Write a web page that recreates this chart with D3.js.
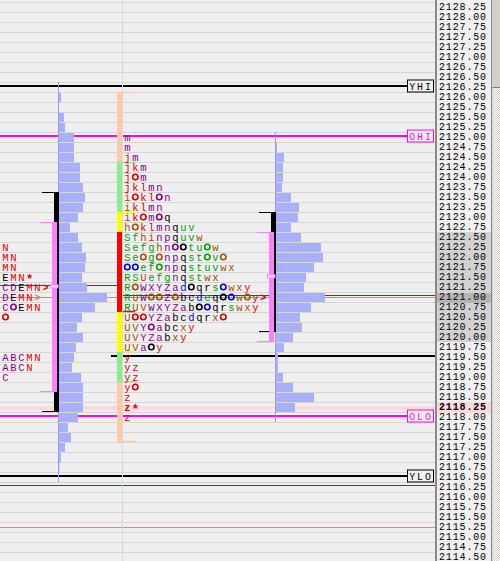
<!DOCTYPE html>
<html><head><meta charset="utf-8">
<script src="https://cdn.jsdelivr.net/npm/d3@7"></script>
<style>
html,body{margin:0;padding:0;background:#efefef;overflow:hidden}
svg{display:block}
text{font-family:"Liberation Mono","DejaVu Sans Mono",monospace}
</style></head><body>
<svg id="c" width="500" height="561"></svg>
<script>
// ---------------- DATA ----------------
const axisPrices = d3.range(2128.25, 2114.49, -0.25);
const refLabels = ["YHI", "OHI", "OLO", "YLO"];
const refPrices = [2126.25, 2125.00, 2118.00, 2116.50];
const refKinds  = ["y", "o", "o", "y"];
const lastPrice = 2118.25;
const axisVaHigh = 2122.50, axisVaLow = 2120.00, axisPoc = 2121.00;

// naked POC lines
const nakedPocPrices = [2121.25, 2121.00, 2121.00, 2116.25, 2115.25];
const nakedPocKinds  = ["tpoPrev", "tpoCurr", "vol", "tpo", "vol"];
const ibExtPrice = 2119.50;

// previous day profile (volume histogram)
const prevPrices = [2126.25,2126,2125.75,2125.5,2125.25,2125,2124.75,2124.5,2124.25,2124,2123.75,2123.5,2123.25,2123,2122.75,2122.5,2122.25,2122,2121.75,2121.5,2121.25,2121,2120.75,2120.5,2120.25,2120,2119.75,2119.5,2119.25,2119,2118.75,2118.5,2118.25,2118,2117.75,2117.5,2117.25,2117,2116.75,2116.5];
const prevVolume = [0.5,3,1,6,7,16,16,16,22,22,25,27,25,20,12,20,24,28,27,24,29,49,37,24,19,25,18,16,14,23,25,25,25,20,10,13,7,3,1.5,0.5];
// previous day TPO letters (its left part is scrolled out of view)
const prevTpoPrices = [2122.25,2122,2121.75,2121.5,2121.25,2121,2120.75,2120.5,2119.5,2119.25,2119];
const prevTpoRows = ["N","MN","MN","EMN*","CDEMN{r}","DEMN{o}","C[p]EMN","[r]","ABCMN","ABCN","C"];
const prevIb = [2123.50, 2118.25];
const prevVa = [2122.75, 2118.75];
const prevMark = 2121.25;

// current day
const currPrices = [2125,2124.75,2124.5,2124.25,2124,2123.75,2123.5,2123.25,2123,2122.75,2122.5,2122.25,2122,2121.75,2121.5,2121.25,2121,2120.75,2120.5,2120.25,2120,2119.75,2119.5,2119.25,2119,2118.75,2118.5,2118.25,2118];
const currVolume = [0,2,9,8,8,7,16,24,23,16,26,46,48,39,31,29,50,36,25,27,18,9,3,3,8,18,39,20,0];
const currTpoRows = [
 "m","m","jm","jkm","j[r]m","jklmn","i[r]kl[p]n","iklmn","ik[r]m[p]q","h[n]klmnquv",
 "Sfhinpquvw","Sefghn[p][k]tu[g]w","Se[n]g[n]npqst[g]v[n]","[b][b]ef[g]npqstuvwx","RSUefgnqstwx",
 "R[n]WXYZad[k]qrs[b]wxy","RUW[n][n]Z[n]bcdeq[k][b]w[n]y{r}","RUVWXYZab[k][b]qrswxy","U[r][r]YZabcdqrx[r]",
 "UVY[p]abcxy","UVYZabxy","UVa[k]y","y","yz","yz","y[r]","z","z*","z"];
const currIb = [2123.00, 2120.25];
const currVa = [2122.50, 2120.00];
const currMark = 2121.50;
const zoneTop    = [2126.00, 2124.25, 2123.00, 2122.50, 2120.50, 2119.50, 2118.75];
const zoneBottom = [2124.50, 2123.25, 2122.75, 2120.75, 2119.75, 2119.00, 2117.50];
const zoneKind   = ["peach","green","yellow","red","yellow","green","peach"];

// letter colour groups (TPO periods)
const letterGroup = {A:"p",B:"p",C:"p",D:"p",E:"k",L:"r",M:"r",N:"r",
 R:"g",S:"g",T:"g",U:"n",V:"n",W:"p",X:"p",Y:"p",Z:"p",
 a:"p",b:"k",c:"k",d:"b",e:"g",f:"g",g:"g",h:"n",i:"n",j:"r",k:"r",l:"r",m:"p",n:"p",o:"p",p:"p",
 q:"k",r:"k",s:"g",t:"g",u:"g",v:"g",w:"n",x:"n",y:"r",z:"r","*":"r"};

// ---------------- STYLE ----------------
const palette = {r:"#dd0000",p:"#880088",k:"#000000",g:"#00a000",b:"#0000ee",n:"#a05000",o:"#ff7a30"};
const zoneColor = {peach:"#ffc8a8",green:"#88ee88",yellow:"#ffff00",red:"#ff0000"};
const barFill = "#aaaeff", barLine = "#9a9aee";
const plotRight = 435;

const svg = d3.select("#c");
const y = d3.scaleLinear().domain([2125, 2114.5]).range([132, 552]); // row top
const ROW = 10;
const xVol = d3.scaleLinear().domain([0, 50]).range([0, 50]);

svg.append("rect").attr("width",500).attr("height",561).attr("fill","#efefef");
svg.append("g").selectAll("line").data(axisPrices).join("line")
  .attr("x1",0).attr("x2",plotRight).attr("y1",d=>y(d)+0.5).attr("y2",d=>y(d)+0.5)
  .attr("stroke","#d6d6d6").attr("stroke-width",1);
svg.append("rect").attr("x",0).attr("width",plotRight).attr("y",y(lastPrice)+4).attr("height",4).attr("fill","#ffd9d9");

const pocColor = {tpoPrev:"#e00000",tpoCurr:"#e00000",tpo:"#e00000",vol:"#ff8040"};
nakedPocPrices.forEach((p,i)=>{
  const k = nakedPocKinds[i];
  const x1 = k==="tpoCurr" ? 117 : 0;
  const x2 = k==="tpoPrev" ? 117 : plotRight;
  const yy = k==="vol" ? y(p)+5.5 : y(p)+3.5;
  svg.append("line").attr("x1",x1).attr("x2",x2).attr("y1",yy).attr("y2",yy)
    .attr("stroke",pocColor[k]).attr("stroke-width",1);
});
svg.append("line").attr("x1",111).attr("x2",plotRight).attr("y1",y(ibExtPrice)+4).attr("y2",y(ibExtPrice)+4)
  .attr("stroke","#000").attr("stroke-width",2);

refPrices.forEach((p,i)=>{
  const col = refKinds[i]==="o" ? "#ff00ff" : "#000000";
  const yy = y(p)+4;
  svg.append("line").attr("x1",0).attr("x2",408).attr("y1",yy).attr("y2",yy).attr("stroke",col).attr("stroke-width",2);
  svg.append("rect").attr("x",407.5).attr("y",yy-6).attr("width",26).attr("height",12)
    .attr("fill","#f0f0f0").attr("stroke",col).attr("stroke-width",1);
  svg.append("text").attr("x",421).attr("y",yy+3.5).attr("text-anchor","middle")
    .attr("font-size",10).attr("letter-spacing",1.8).attr("fill",col).text(refLabels[i]);
});

function histogram(prices, vols, x0, color){
  const g = svg.append("g");
  g.selectAll("rect").data(prices).join("rect")
    .attr("x",x0).attr("y",d=>y(d)+1).attr("height",ROW-1)
    .attr("width",(d,i)=>xVol(vols[i])).attr("fill",color);
  g.append("line").attr("x1",x0+0.5).attr("x2",x0+0.5)
    .attr("y1",y(d3.max(prices))).attr("y2",y(d3.min(prices))+ROW)
    .attr("stroke",barLine).attr("stroke-width",1);
}
function valueBars(ib, va, mark, xr){
  svg.append("rect").attr("x",xr-5).attr("width",5).attr("y",y(ib[0])).attr("height",y(ib[1])+ROW-y(ib[0])).attr("fill","#000");
  [y(ib[0])+0.5, y(ib[1])+ROW-0.5].forEach(v=>svg.append("line").attr("x1",xr-17).attr("x2",xr).attr("y1",v).attr("y2",v).attr("stroke","#000"));
  svg.append("rect").attr("x",xr-7).attr("width",5).attr("y",y(va[0])).attr("height",y(va[1])+ROW-y(va[0])).attr("fill","#ff80ff");
  [y(va[0])+0.5, y(va[1])+ROW-0.5].forEach(v=>svg.append("line").attr("x1",xr-19).attr("x2",xr-2).attr("y1",v).attr("y2",v).attr("stroke","#ff80ff"));
  svg.append("rect").attr("x",xr-8.5).attr("width",7.5).attr("y",y(mark)+2.5).attr("height",3.5)
    .attr("fill","#ffe0ff").attr("stroke","#ff80ff").attr("stroke-width",1);
}

function parseRow(s){
  const toks=[]; const re=/\[(.)\]|\{(.)\}|(.)/g; let m;
  while((m=re.exec(s))){ if(m[1]) toks.push({t:"circle",c:m[1]}); else if(m[2]) toks.push({t:"arrow",c:m[2]}); else toks.push({t:"ch",ch:m[3]}); }
  return toks;
}
function tpoRows(prices, rows, x0, boldPrice){
  const g = svg.append("g");
  rows.forEach((r,ri)=>{
    const top = y(prices[ri]);
    parseRow(r).forEach((tk,ci)=>{
      const cx = x0 + 8*ci + 4;
      if(tk.t==="circle"){
        g.append("ellipse").attr("cx",cx).attr("cy",top+5).attr("rx",2.7).attr("ry",2.8)
          .attr("fill","none").attr("stroke",palette[tk.c]).attr("stroke-width",1.6);
      } else if(tk.t==="arrow"){
        g.append("text").attr("x",cx).attr("y",top+8.5).attr("text-anchor","middle").attr("font-size",10)
          .attr("font-weight","bold").attr("fill",palette[tk.c]).text(">");
      } else if(tk.ch!==" "){
        const star = tk.ch==="*";
        g.append("text").attr("x",cx).attr("y",top+(star?10.5:8.5)).attr("text-anchor","middle")
          .attr("font-size",star?12:10.5)
          .attr("font-weight",(star||prices[ri]===boldPrice)?"bold":"normal")
          .attr("fill",palette[letterGroup[tk.ch]||"k"]).text(tk.ch);
      }
    });
  });
}

histogram(prevPrices, prevVolume, 58, barFill);
valueBars(prevIb, prevVa, prevMark, 59);
tpoRows(prevTpoPrices, prevTpoRows, 1.5, null);

zoneKind.forEach((k,i)=>{
  const t=y(zoneTop[i]), b=y(zoneBottom[i])+ROW;
  svg.append("rect").attr("x",117).attr("width",k==="red"?5.5:5).attr("y",t).attr("height",b-t).attr("fill",zoneColor[k]);
  const edge = i<3 ? t+0.5 : b-0.5;
  svg.append("line").attr("x1",117).attr("x2",135).attr("y1",edge).attr("y2",edge).attr("stroke",zoneColor[k]).attr("stroke-width",1.5);
});
svg.append("line").attr("x1",122.5).attr("x2",122.5).attr("y1",0).attr("y2",561).attr("stroke","#d8d8d8");

tpoRows(currPrices, currTpoRows, 123.3, lastPrice);
histogram(currPrices, currVolume, 275, barFill);
valueBars(currIb, currVa, currMark, 276);

// ---------------- price axis ----------------
svg.append("rect").attr("x",plotRight).attr("y",0).attr("width",57).attr("height",561).attr("fill","#f0f0f0");
svg.append("rect").attr("x",437).attr("y",y(axisVaHigh)).attr("width",54).attr("height",y(axisVaLow)+ROW-y(axisVaHigh)).attr("fill","#d2d2d2");
svg.append("rect").attr("x",437).attr("y",y(axisPoc)+1).attr("width",54).attr("height",ROW).attr("fill","#b4b4b4");
svg.append("rect").attr("x",437).attr("y",y(lastPrice)).attr("width",54).attr("height",ROW+1.5).attr("fill","#ffd9d9");
const axis = d3.axisRight(d3.scaleLinear().domain(y.domain()).range([136,556]))
  .tickValues(axisPrices).tickFormat(d3.format(".2f")).tickSize(0).tickPadding(0);
const ag = svg.append("g").attr("transform","translate(439,0)").call(axis);
ag.select(".domain").remove();
ag.selectAll("text").attr("font-size",10).attr("letter-spacing",0.85).attr("fill","#000")
  .attr("font-family","'Liberation Mono',monospace")
  .attr("font-weight",d=>d===lastPrice?"bold":"normal");
svg.append("rect").attr("x",435).attr("y",0).attr("width",2).attr("height",561).attr("fill","#8a8a8a");
svg.append("rect").attr("x",491).attr("y",0).attr("width",1.5).attr("height",561).attr("fill","#8a8a8a");
const defs = svg.append("defs");
const pat = defs.append("pattern").attr("id","chk").attr("width",2).attr("height",2).attr("patternUnits","userSpaceOnUse");
pat.append("rect").attr("width",2).attr("height",2).attr("fill","#ffffff");
pat.append("rect").attr("width",1).attr("height",1).attr("fill","#d4d0c8");
pat.append("rect").attr("x",1).attr("y",1).attr("width",1).attr("height",1).attr("fill","#d4d0c8");
svg.append("rect").attr("x",492.5).attr("y",0).attr("width",7.5).attr("height",561).attr("fill","url(#chk)");
svg.append("rect").attr("x",492.5).attr("y",0).attr("width",7.5).attr("height",87).attr("fill","#d4d0c8");
svg.append("line").attr("x1",492.5).attr("x2",500).attr("y1",87.5).attr("y2",87.5).attr("stroke","#808080");
</script>
</body></html>
